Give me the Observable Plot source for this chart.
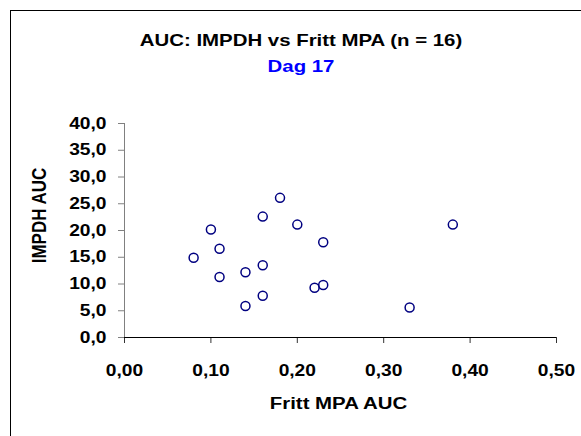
<!DOCTYPE html>
<html>
<head>
<meta charset="utf-8">
<script src="https://cdn.jsdelivr.net/npm/d3@7"></script>
<script src="https://cdn.jsdelivr.net/npm/@observablehq/plot@0.6"></script>
<style>
  html, body { margin: 0; padding: 0; background: #fff; }
  #wrap { position: relative; width: 581px; height: 436px; overflow: hidden; font-family: "Liberation Sans", Arial, sans-serif; }
  #frame { position: absolute; left: 10px; top: 10px; width: 700px; height: 600px; border: 1px solid #000; box-sizing: border-box; }
  .t { position: absolute; font-weight: bold; white-space: nowrap; line-height: 1; transform: translateX(-50%) scaleX(1.2); }
  #title { left: 301px; top: 32px; font-size: 17px; color: #000; }
  #sub { left: 301px; top: 58px; font-size: 17px; color: #0000ff; }
  #chart { position: absolute; left: 0; top: 0; }
</style>
</head>
<body>
<div id="wrap">
  <div id="frame"></div>
  <div class="t" id="title">AUC: IMPDH vs Fritt MPA (n = 16)</div>
  <div class="t" id="sub">Dag 17</div>
  <div id="chart"></div>
</div>
<script>
const frittMPA = [0.08, 0.10, 0.11, 0.11, 0.14, 0.14, 0.16, 0.16, 0.16, 0.18, 0.20, 0.22, 0.23, 0.23, 0.33, 0.38];
const impdh    = [14.9, 20.2, 16.6, 11.3, 12.2, 5.9, 22.6, 13.5, 7.8, 26.1, 21.1, 9.3, 9.8, 17.8, 5.6, 21.1];
const xTicks = [0, 0.1, 0.2, 0.3, 0.4, 0.5];
const yTicks = [0, 5, 10, 15, 20, 25, 30, 35, 40];
const xLabel = "Fritt MPA AUC";
const yLabel = "IMPDH AUC";

const data = frittMPA.map((x, i) => ({x, y: impdh[i]}));
const fmt1 = d => d.toFixed(1).replace(".", ",");
const fmt2 = d => d.toFixed(2).replace(".", ",");

const chart = Plot.plot({
  width: 581,
  height: 436,
  marginLeft: 124,
  marginRight: 25,
  marginTop: 123,
  marginBottom: 99,
  style: {fontFamily: "'Liberation Sans', Arial, sans-serif", fontSize: "16px", fontWeight: "bold", background: "transparent", color: "#000"},
  x: {domain: [0, 0.5]},
  y: {domain: [0, 40]},
  marks: [
    Plot.axisY({ticks: yTicks, tickFormat: fmt1, tickSize: 6, tickPadding: 12, stroke: "#808080", fill: "#000", fontSize: 16, label: null}),
    Plot.axisX({ticks: xTicks, tickFormat: fmt2, tickSize: 6, tickPadding: 21, stroke: "#333", fill: "#000", fontSize: 16, label: null}),
    Plot.ruleX([0], {stroke: "#808080"}),
    Plot.ruleY([0], {stroke: "#000"}),
    Plot.text([yLabel], {frameAnchor: "left", textAnchor: "middle", dx: -85, dy: -15, rotate: -90, fontSize: 17, fontWeight: "bold", fill: "#000"}),
    Plot.text([xLabel], {frameAnchor: "bottom", textAnchor: "middle", dx: -2, dy: 71.5, fontSize: 17, fontWeight: "bold", fill: "#000"}),
    Plot.dot(data, {x: "x", y: "y", r: 4.5, stroke: "#000080", strokeWidth: 1.5, fill: "none"})
  ]
});

// The reference is stretched horizontally: widen the glyphs in screen x around each anchor
const SX = 1.2;
chart.querySelectorAll("text").forEach(t => {
  const tr = t.getAttribute("transform");
  if (tr && tr.startsWith("translate(")) {
    const k = tr.indexOf(")") + 1;
    t.setAttribute("transform", tr.slice(0, k) + ` scale(${SX},1)` + tr.slice(k));
  } else {
    const x = +(t.getAttribute("x") || 0), y = +(t.getAttribute("y") || 0);
    t.setAttribute("x", 0); t.setAttribute("y", 0);
    t.setAttribute("transform", `translate(${x},${y}) scale(${SX},1)` + (tr ? " " + tr : ""));
  }
});
document.getElementById("chart").appendChild(chart);
</script>
</body>
</html>
